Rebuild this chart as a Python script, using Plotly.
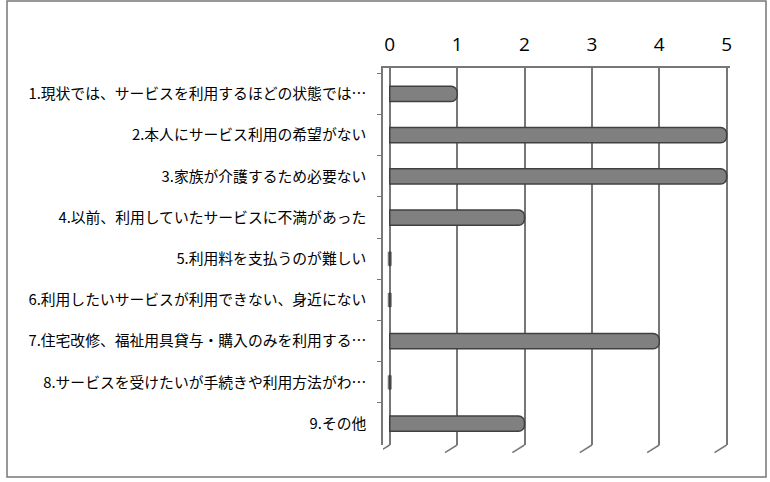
import plotly.graph_objects as go

categories = [
    "1.現状では、サービスを利用するほどの状態では…",
    "2.本人にサービス利用の希望がない",
    "3.家族が介護するため必要ない",
    "4.以前、利用していたサービスに不満があった",
    "5.利用料を支払うのが難しい",
    "6.利用したいサービスが利用できない、身近にない",
    "7.住宅改修、福祉用具貸与・購入のみを利用する…",
    "8.サービスを受けたいが手続きや利用方法がわ…",
    "9.その他",
]
counts = [1, 5, 5, 2, 0, 0, 4, 0, 2]
x_ticks = [0, 1, 2, 3, 4, 5]

fig = go.Figure()

fig.add_trace(go.Bar(
    y=categories,
    x=counts,
    orientation="h",
    width=0.37,
    marker=dict(color="#808080", line=dict(color="#404040", width=1.5), cornerradius=6),
    showlegend=False,
))

# zero values show up as a flat disc at the base
zero_cats = [c for c, v in zip(categories, counts) if v == 0]
fig.add_trace(go.Scatter(
    y=zero_cats,
    x=[0] * len(zero_cats),
    mode="markers",
    marker=dict(symbol="line-ns-open", size=[10] * len(zero_cats), color="#404040",
                line=dict(color="#404040", width=4)),
    showlegend=False,
))

# little perspective strokes at the foot of each gridline
for t in x_ticks:
    fig.add_shape(type="line", xref="x", yref="paper",
                  x0=t, x1=t - 0.18, y0=0, y1=-0.02,
                  line=dict(color="#777777", width=1.5))

# outer chart frame
plot_l, plot_r, plot_t, plot_b = 383, 730, 68, 445
pw, ph = plot_r - plot_l, plot_b - plot_t
fig.add_shape(type="rect", xref="paper", yref="paper",
              x0=(7 - plot_l) / pw, x1=(766 - plot_l) / pw,
              y0=(plot_b - 477) / ph, y1=(plot_b - 1) / ph,
              line=dict(color="#777777", width=1.5))

fig.update_layout(
    width=770, height=482,
    margin=dict(l=plot_l, r=770 - plot_r, t=plot_t, b=482 - plot_b),
    paper_bgcolor="white",
    plot_bgcolor="white",
    font=dict(family="Noto Sans CJK JP", color="black"),
    bargap=0.6,
)
fig.update_xaxes(
    side="top",
    range=[-0.1, 5.05],
    tickvals=x_ticks,
    showgrid=True,
    gridcolor="#777777",
    gridwidth=1.5,
    showline=True,
    linecolor="#777777",
    linewidth=1.5,
    zeroline=False,
    ticks="",
    tickfont=dict(family="Open Sans", size=19, color="black"),
    ticklabelstandoff=8,
)
fig.update_yaxes(
    range=[8.52, -0.63],
    showgrid=False,
    showline=True,
    linecolor="#777777",
    linewidth=1.5,
    ticks="outside",
    tickson="boundaries",
    ticklen=4,
    tickcolor="#777777",
    tickfont=dict(family="Noto Sans CJK JP", size=14.8, color="black"),
    ticklabelstandoff=12,
)

fig.write_html("out.html", config={"displayModeBar": False},
               post_script="document.body.style.margin='0';document.body.style.overflow='hidden';")
